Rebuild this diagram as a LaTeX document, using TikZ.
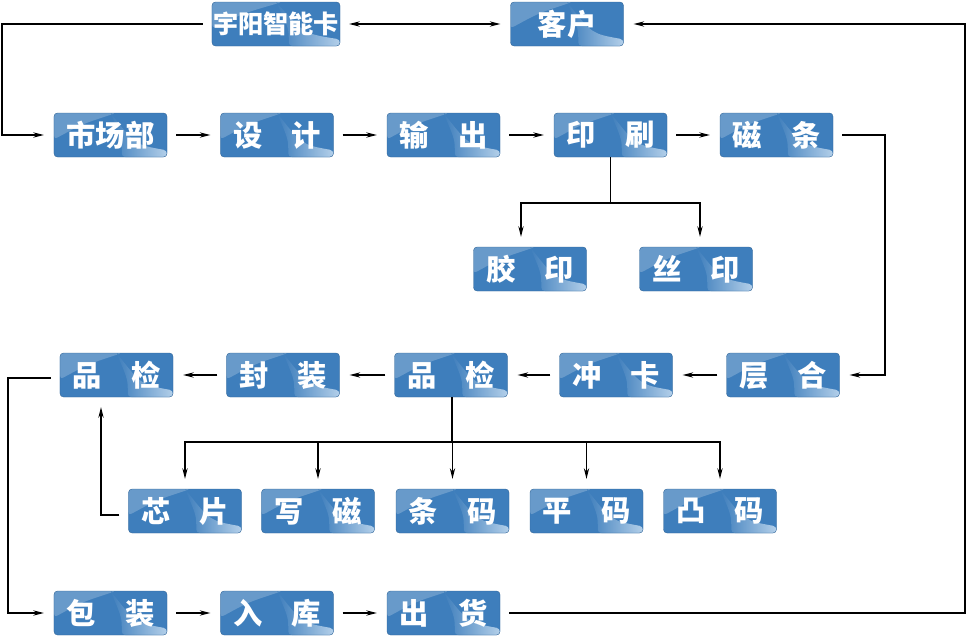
\documentclass[tikz,border=0pt]{standalone}
\usepackage{fontspec}
\newfontfamily\cjk{Noto Sans CJK SC}
\usetikzlibrary{arrows.meta,calc}

\definecolor{kartenblau}{RGB}{62,126,188}
\definecolor{kartenhell}{RGB}{200,222,242}

\tikzset{
  karte/.style={draw=kartenblau!80!black, line width=0.3pt, rounded corners=3pt, fill=kartenblau,
    minimum width=3.39cm, minimum height=1.32cm, inner sep=0pt, text=white,
    font=\cjk\bfseries\fontsize{25}{25}\selectfont,
    path picture={
      \path (path picture bounding box.north west) coordinate (g1)
            (path picture bounding box.south east) coordinate (g2);
      \fill[white, opacity=.22] (g1) -- ($(g1)!.55!(g1-|g2)$)
        .. controls ($(g1)!.25!(g2)$) .. ($(g1)!.6!(g1|-g2)$) -- cycle;
      \shade[left color=kartenblau, right color=kartenhell, opacity=.85]
        ($(g1)!.5!(g1-|g2)$) .. controls ($(g1)!.72!(g2)$) .. ($(g1-|g2)!.85!(g2)$)
        -- (g2) -- ($(g1|-g2)!.6!(g2)$) .. controls ($(g1)!.6!(g2)$) .. cycle;
    }},
  pfeil/.style={line width=1.2pt, -{Stealth[length=9pt,width=4.5pt]}, shorten <=0.27cm, shorten >=0.3cm},
  linie/.style={line width=1.2pt}
}

\begin{document}
\begin{tikzpicture}[x=0.03cm, y=-0.03cm]
    \useasboundingbox (0,0) rectangle (967,637);

    % Zeile 1
    \node[karte, minimum width=3.84cm, font=\cjk\bfseries\fontsize{21.5}{21.5}\selectfont] (yuyang) at (276,24) {宇阳智能卡};
    \node[karte] (kehu) at (567,24) {客户};

    % Zeile 2
    \node[karte] (shichang) at (110.5,135) {市场部};
    \node[karte] (sheji) at (277,135) {设\hspace{1em}计};
    \node[karte] (shuchu) at (443.5,135) {输\hspace{1em}出};
    \node[karte] (yinshua) at (610.5,135) {印\hspace{1em}刷};
    \node[karte] (citiao) at (776.5,135) {磁\hspace{1em}条};

    % Zeile 3
    \node[karte] (jiaoyin) at (530,269) {胶\hspace{1em}印};
    \node[karte] (siyin) at (696,269) {丝\hspace{1em}印};

    % Zeile 4
    \node[karte] (pinjianA) at (116.5,375) {品\hspace{1em}检};
    \node[karte] (fengzhuang) at (283,375) {封\hspace{1em}装};
    \node[karte] (pinjianB) at (451,375) {品\hspace{1em}检};
    \node[karte] (chongka) at (616,375) {冲\hspace{1em}卡};
    \node[karte] (cenghe) at (783,375) {层\hspace{1em}合};

    % Zeile 5
    \node[karte] (xinpian) at (185,511) {芯\hspace{1em}片};
    \node[karte] (xieci) at (318,511) {写\hspace{1em}磁};
    \node[karte] (tiaoma) at (452.5,511) {条\hspace{1em}码};
    \node[karte] (pingma) at (586.5,511) {平\hspace{1em}码};
    \node[karte] (tuma) at (720,511) {凸\hspace{1em}码};

    % Zeile 6
    \node[karte] (baozhuang) at (110.5,613) {包\hspace{1em}装};
    \node[karte] (ruku) at (277,613) {入\hspace{1em}库};
    \node[karte] (chuhuo) at (443.5,613) {出\hspace{1em}货};

    % Ecken
    \coordinate (eckeA) at (2,24);
    \coordinate (eckeB) at (965,613);
    \coordinate (eckeC) at (885,135);
    \coordinate (eckeD) at (8,378);
    \coordinate (eckeE) at (101,515);
    \coordinate (verzA) at (610.5,203);
    \coordinate (verzB) at (452,442);

    % Pfeile
    \draw[pfeil, {Stealth[length=9pt,width=4.5pt]}-{Stealth[length=9pt,width=4.5pt]}] (yuyang) -- (kehu);
    \draw[pfeil] (yuyang.west) -- (eckeA) |- (shichang.west);
    \draw[pfeil] (chuhuo.east) -- (eckeB) |- (kehu.east);
    \draw[pfeil] (shichang) -- (sheji);
    \draw[pfeil] (sheji) -- (shuchu);
    \draw[pfeil] (shuchu) -- (yinshua);
    \draw[pfeil] (yinshua) -- (citiao);
    \draw[pfeil] (citiao.east) -- (eckeC) |- (cenghe.east);
    \draw[linie] (yinshua.south) -- (verzA);
    \draw[pfeil, shorten <=0pt] (verzA) -| ([xshift=-0.27cm]jiaoyin.north);
    \draw[pfeil, shorten <=0pt] (verzA) -| ([xshift=0.12cm]siyin.north);
    \draw[pfeil] (cenghe) -- (chongka);
    \draw[pfeil] (chongka) -- (pinjianB);
    \draw[pfeil] (pinjianB) -- (fengzhuang);
    \draw[pfeil] (fengzhuang) -- (pinjianA);
    \draw[linie] (pinjianB.south -| verzB) -- (verzB);
    \foreach \ziel in {xinpian,xieci,tiaoma,pingma,tuma}
        \draw[pfeil, shorten <=0pt] (verzB) -| (\ziel.north);
    \draw[pfeil] (xinpian.west |- eckeE) -- (eckeE) -- (eckeE |- pinjianA.south);
    \draw[pfeil] (pinjianA.west |- eckeD) -- (eckeD) |- (baozhuang.west);
    \draw[pfeil] (baozhuang) -- (ruku);
    \draw[pfeil] (ruku) -- (chuhuo);
\end{tikzpicture}
\end{document}
